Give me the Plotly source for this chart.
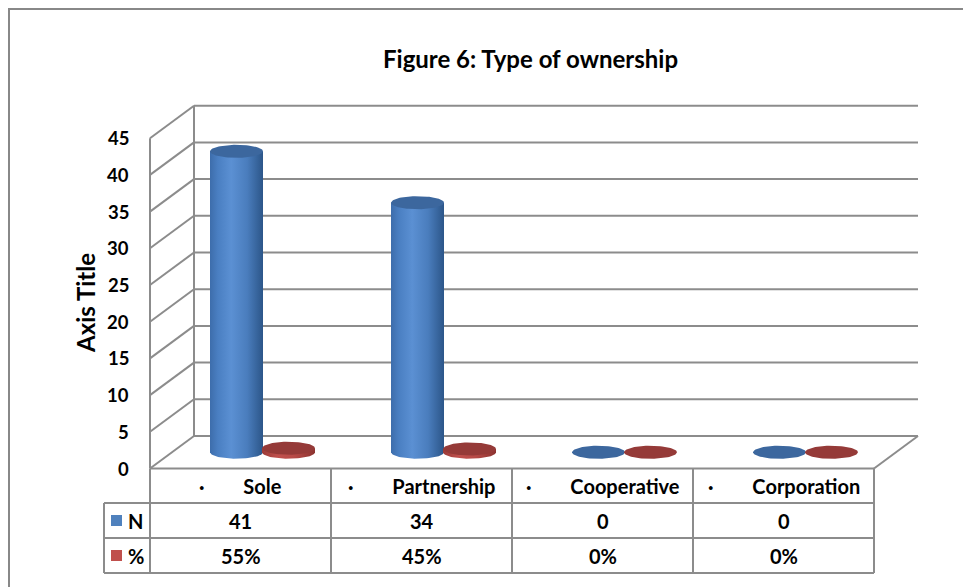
import numpy as np
import plotly.graph_objects as go

# ---- data -------------------------------------------------------------
categories = ["Sole", "Partnership", "Cooperative", "Corporation"]
n_values = [41, 34, 0, 0]
pct_values = [0.55, 0.45, 0.0, 0.0]
series_names = ["N", "%"]
y_ticks = [0, 5, 10, 15, 20, 25, 30, 35, 40, 45]
title_text = "Figure 6: Type of ownership"
axis_title_text = "Axis Title"

# ---- geometry of the oblique 3-D view ---------------------------------
W, H = 963, 587
CAT_PX = 181.0        # pixels per category slot
UNIT_PX = 7.34        # pixels per value unit
ORIGIN_X = 240.5      # pixel x of first category centre, front plane
ORIGIN_Y = 468.5      # pixel y of value 0, front plane
DEPTH_DX = 44.0 / CAT_PX
DEPTH_DY = 32.5 / UNIT_PX
BAR_DEPTH = 0.5
SLOT = 52.0 / CAT_PX
RADIUS = 26.5 / CAT_PX
ELL_H = 6.5 / UNIT_PX
Y_MAX = max(y_ticks)

FONT = "Lato"
GRID = "#8c8c8c"


def proj(cx, v, d):
    return cx + d * DEPTH_DX, v + d * DEPTH_DY


def px2x(px):
    return (px - ORIGIN_X) / CAT_PX


def px2y(py):
    return (ORIGIN_Y - py) / UNIT_PX


fig = go.Figure()
shapes = []
annotations = []


def line(x0, y0, x1, y1, xref="x", yref="y", color=GRID, width=2):
    shapes.append(dict(type="line", x0=x0, y0=y0, x1=x1, y1=y1,
                       xref=xref, yref=yref, layer="below",
                       line=dict(color=color, width=width)))


left_edge, right_edge = -0.5, len(categories) - 0.5

# back wall gridlines and left wall diagonals
for t in y_ticks:
    bx0, by0 = proj(left_edge, t, 1)
    bx1, by1 = proj(right_edge, t, 1)
    line(bx0, by0, bx1, by1)
    fx, fy = proj(left_edge, t, 0)
    line(fx, fy, bx0, by0)

# wall verticals
fx0, fy0 = proj(left_edge, 0, 0)
fx1, fy1 = proj(left_edge, Y_MAX, 0)
line(fx0, fy0, fx1, fy1)
bx0, by0 = proj(left_edge, 0, 1)
bx1, by1 = proj(left_edge, Y_MAX, 1)
line(bx0, by0, bx1, by1)
# floor right edge
rx0, ry0 = proj(right_edge, 0, 0)
rx1, ry1 = proj(right_edge, 0, 1)
line(rx0, ry0, rx1, ry1)

# ---- cylinders ----------------------------------------------------------
blue_scale = [[0, "#3d6dab"], [0.15, "#4a7fc2"], [0.4, "#5b90d3"],
              [0.7, "#4a7dbd"], [1, "#2c5689"]]
red_scale = [[0, "#9b3b38"], [0.3, "#c0504d"], [0.6, "#b84a47"],
             [1, "#8c3330"]]
series_styles = [
    dict(values=n_values, scale=blue_scale, top="#3c679e"),
    dict(values=pct_values, scale=red_scale, top="#953a38"),
]

theta_half = np.linspace(0, np.pi, 40)
theta_full = np.linspace(0, 2 * np.pi, 80)

for s, style in enumerate(series_styles):
    for i, v in enumerate(style["values"]):
        cx, base = proj(i, 0, BAR_DEPTH)
        cx += (s - 0.5) * SLOT
        top = base + v
        if v > 0:
            xs = [cx - RADIUS, cx + RADIUS] + list(cx + RADIUS * np.cos(theta_half))
            ys = [top, top] + list(base - ELL_H * np.sin(theta_half))
            fig.add_trace(go.Scatter(
                x=xs, y=ys, mode="lines", fill="toself", line=dict(width=0),
                fillgradient=dict(type="horizontal", colorscale=style["scale"]),
                hoverinfo="skip", showlegend=False))
        fig.add_trace(go.Scatter(
            x=cx + RADIUS * np.cos(theta_full),
            y=top + ELL_H * np.sin(theta_full),
            mode="lines", fill="toself", fillcolor=style["top"],
            line=dict(width=0), hoverinfo="skip", showlegend=False))

# ---- y tick labels --------------------------------------------------------
for t in y_ticks:
    annotations.append(dict(
        x=px2x(131), y=t, xref="x", yref="y", text=str(t), showarrow=False,
        xanchor="right", yanchor="middle",
        font=dict(family=FONT, size=18.5, color="#000", weight="bold")))

annotations.append(dict(
    x=px2x(85), y=px2y(303), xref="x", yref="y", text=axis_title_text,
    textangle=-90, showarrow=False, xanchor="center", yanchor="middle",
    font=dict(family=FONT, size=24, color="#000", weight="bold")))

annotations.append(dict(
    x=530 / W, y=1 - 59 / H, xref="paper", yref="paper", text=title_text,
    showarrow=False, xanchor="center", yanchor="middle",
    font=dict(family=FONT, size=24, color="#000", weight="bold")))

# ---- data table -------------------------------------------------------------
row_px = [468.5, 503, 538, 573]
rows_y = [px2y(p) for p in row_px]
legend_left = px2x(104)

for r in range(1, 4):
    line(legend_left, rows_y[r], right_edge, rows_y[r])
line(left_edge, rows_y[0], right_edge, rows_y[0])
for k in range(len(categories) + 1):
    line(left_edge + k, rows_y[0], left_edge + k, rows_y[3])
line(legend_left, rows_y[1], legend_left, rows_y[3])

gap = "\u00a0" * 8
table_font = dict(family=FONT, size=20, color="#000", weight="bold")
for i, c in enumerate(categories):
    annotations.append(dict(
        x=i, y=(rows_y[0] + rows_y[1]) / 2, xref="x", yref="y",
        text="\u00b7" + gap + c, showarrow=False, xanchor="center",
        yanchor="middle", font=table_font))
    annotations.append(dict(
        x=i, y=(rows_y[1] + rows_y[2]) / 2, xref="x", yref="y",
        text=f"{n_values[i]:d}", showarrow=False, xanchor="center",
        yanchor="middle", font=table_font))
    annotations.append(dict(
        x=i, y=(rows_y[2] + rows_y[3]) / 2, xref="x", yref="y",
        text=f"{pct_values[i]:.0%}", showarrow=False, xanchor="center",
        yanchor="middle", font=table_font))

key_colors = ["#4f81bd", "#c0504d"]
for r, (name, col) in enumerate(zip(series_names, key_colors)):
    yc = (rows_y[r + 1] + rows_y[r + 2]) / 2
    half = 5.5 / UNIT_PX
    shapes.append(dict(type="rect", xref="x", yref="y",
                       x0=px2x(111), x1=px2x(122), y0=yc - half, y1=yc + half,
                       fillcolor=col, line=dict(width=0)))
    annotations.append(dict(
        x=px2x(126), y=yc, xref="x", yref="y", text=name, showarrow=False,
        xanchor="left", yanchor="middle", font=table_font))

# chart border
shapes.append(dict(type="rect", xref="paper", yref="paper",
                   x0=9 / W, y0=-0.05, x1=1.05, y1=1 - 9 / H,
                   line=dict(color="#888888", width=2), layer="below"))

fig.update_layout(
    width=W, height=H,
    margin=dict(l=0, r=0, t=0, b=0),
    paper_bgcolor="white", plot_bgcolor="white",
    xaxis=dict(range=[px2x(0), px2x(W)], visible=False, fixedrange=True),
    yaxis=dict(range=[px2y(H), px2y(0)], visible=False, fixedrange=True),
    shapes=shapes, annotations=annotations, showlegend=False,
)

fig.write_html("out.html")
